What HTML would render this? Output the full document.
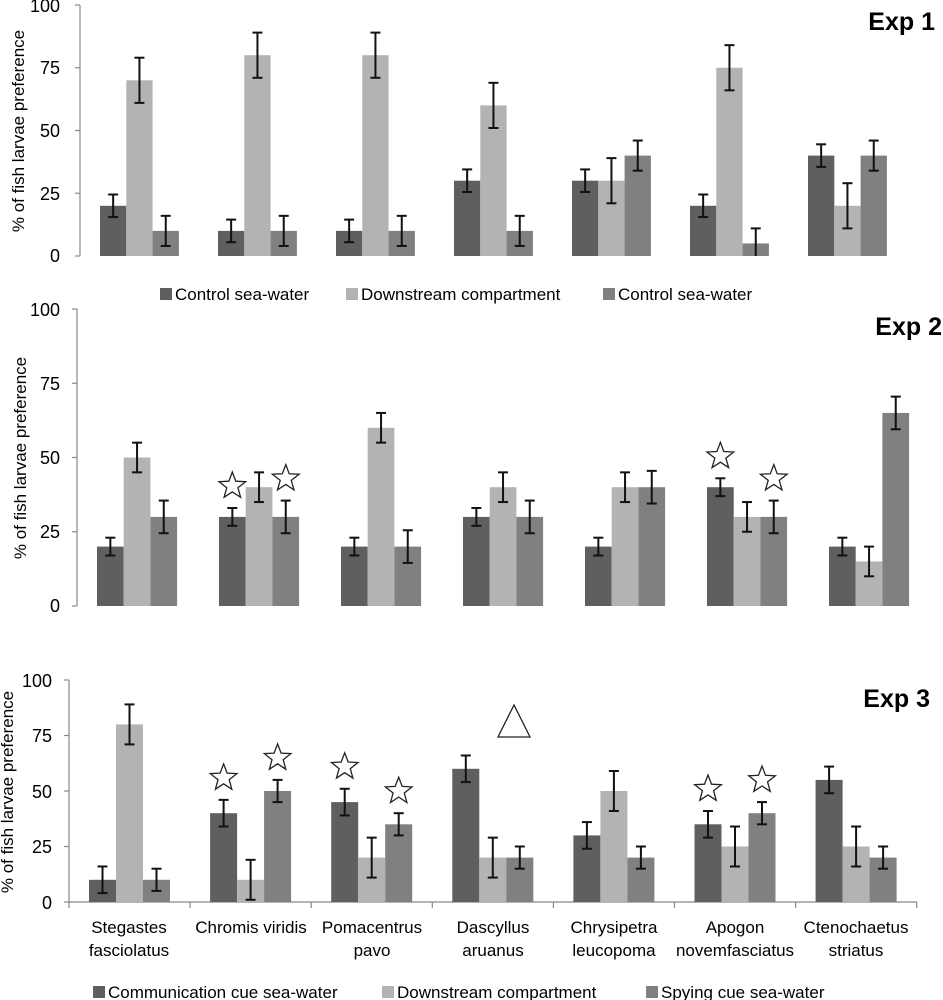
<!DOCTYPE html>
<html><head><meta charset="utf-8"><style>
body{margin:0;background:#fff}
svg{display:block;font-family:"Liberation Sans",sans-serif}
</style></head><body>
<svg id="s" width="943" height="1000" viewBox="0 0 943 1000" xmlns="http://www.w3.org/2000/svg">
<g id="bars"></g>
<g font-size="18" fill="#000" text-anchor="end">
<text x="60" y="12">100</text><text x="60" y="74">75</text><text x="60" y="137">50</text><text x="60" y="200">25</text><text x="60" y="262">0</text>
<text x="60" y="316">100</text><text x="60" y="390">75</text><text x="60" y="464">50</text><text x="60" y="538">25</text><text x="60" y="612">0</text>
<text x="52" y="687">100</text><text x="52" y="742">75</text><text x="52" y="798">50</text><text x="52" y="853">25</text><text x="52" y="909">0</text>
</g>
<g font-size="17" text-anchor="middle">
<text transform="translate(24,131) rotate(-90)">% of fish larvae preference</text>
<text transform="translate(26,458) rotate(-90)">% of fish larvae preference</text>
<text transform="translate(13,792) rotate(-90)">% of fish larvae preference</text>
</g>
<g font-size="25" font-weight="bold" text-anchor="end">
<text x="935" y="30">Exp 1</text><text x="942" y="335">Exp 2</text><text x="930" y="707">Exp 3</text>
</g>
<g font-size="17" text-anchor="middle">
<text x="129" y="933">Stegastes</text><text x="129" y="956">fasciolatus</text>
<text x="251" y="933">Chromis viridis</text>
<text x="372" y="933">Pomacentrus</text><text x="372" y="956">pavo</text>
<text x="493" y="933">Dascyllus</text><text x="493" y="956">aruanus</text>
<text x="614" y="933">Chrysipetra</text><text x="614" y="956">leucopoma</text>
<text x="735" y="933">Apogon</text><text x="735" y="956">novemfasciatus</text>
<text x="856" y="933">Ctenochaetus</text><text x="856" y="956">striatus</text>
</g>
<g font-size="17">
<rect x="160" y="288" width="12" height="12" fill="#5f5f5f"/><text x="175" y="300">Control sea-water</text>
<rect x="346" y="288" width="12" height="12" fill="#b3b3b3"/><text x="361" y="300">Downstream compartment</text>
<rect x="603" y="288" width="12" height="12" fill="#808080"/><text x="618" y="300">Control sea-water</text>
<rect x="93" y="986" width="12" height="12" fill="#5f5f5f"/><text x="108" y="998">Communication  cue sea-water</text>
<rect x="382" y="986" width="12" height="12" fill="#b3b3b3"/><text x="397" y="998">Downstream compartment</text>
<rect x="646" y="986" width="12" height="12" fill="#808080"/><text x="661" y="998">Spying cue sea-water</text>
</g>
</svg>
<script>
var NS="http://www.w3.org/2000/svg",g=document.getElementById("bars");
function el(t,a){var e=document.createElementNS(NS,t);for(var k in a)e.setAttribute(k,a[k]);g.appendChild(e);return e;}
var cols=["#5f5f5f","#b3b3b3","#808080"];
var P=[
{ax:80,top:5,bot:256,x0:100,sp:118,bw:26.3,end:80,
 d:[[20,70,10],[10,80,10],[10,80,10],[30,60,10],[30,30,40],[20,75,5],[40,20,40]],e:[4.5,9,6],ticks:false},
{ax:77,top:309,bot:606,x0:97,sp:122,bw:26.7,end:77,
 d:[[20,50,30],[30,40,30],[20,60,20],[30,40,30],[20,40,40],[40,30,30],[20,15,65]],e:[3,5,5.5],ticks:false},
{ax:69,top:680,bot:902,x0:89,sp:121.1,bw:27,end:917,
 d:[[10,80,10],[40,10,50],[45,20,35],[60,20,20],[30,50,20],[35,25,40],[55,25,20]],e:[6,9,5],ticks:true}];
var stars={1:[[1,0],[1,2],[5,0],[5,2]],2:[[1,0],[1,2],[2,0],[2,2],[5,0],[5,2]]};
function star(cx,cy,r){var p=[];for(var i=0;i<10;i++){var a=-Math.PI/2+i*Math.PI/5,rr=i%2?r*0.42:r;p.push((cx+rr*Math.cos(a)).toFixed(1)+","+(cy+rr*Math.sin(a)).toFixed(1));}
el("polygon",{points:p.join(" "),fill:"#fff",stroke:"#222","stroke-width":1.3});}
P.forEach(function(p,pi){
 var s=(p.bot-p.top)/100;
 for(var t=0;t<=4;t++){var y=p.bot-t*25*s;el("line",{x1:p.ax-5,x2:p.ax,y1:y,y2:y,stroke:"#888","stroke-width":1.2});}
 el("line",{x1:p.ax,x2:p.ax,y1:p.top,y2:p.bot,stroke:"#888","stroke-width":1.2});
 if(p.ticks){el("line",{x1:p.ax,x2:p.end,y1:p.bot,y2:p.bot,stroke:"#888","stroke-width":1.2});
  for(var k=0;k<=7;k++){var x=p.ax+k*121.1;el("line",{x1:x,x2:x,y1:p.bot,y2:p.bot+6,stroke:"#888","stroke-width":1.2});}}
 p.d.forEach(function(gr,gi){gr.forEach(function(v,bi){
  var x=p.x0+gi*p.sp+bi*p.bw,y=p.bot-v*s;
  el("rect",{x:x,y:y,width:p.bw,height:v*s,fill:cols[bi]});
  var cx=x+p.bw/2,e=p.e[bi]*s,y1=Math.min(p.bot,y+e),y0=y-e;
  el("line",{x1:cx,x2:cx,y1:y0,y2:y1,stroke:"#111","stroke-width":2});
  el("line",{x1:cx-5,x2:cx+5,y1:y0,y2:y0,stroke:"#111","stroke-width":2});
  if(y+e<p.bot)el("line",{x1:cx-5,x2:cx+5,y1:y1,y2:y1,stroke:"#111","stroke-width":2});
  (stars[pi]||[]).forEach(function(q){if(q[0]==gi&&q[1]==bi)star(cx,y0-22,14);});
 });});
});
el("polygon",{points:"514,705 498,737 530,737",fill:"#fff",stroke:"#222","stroke-width":1.3});
</script>
</body></html>
